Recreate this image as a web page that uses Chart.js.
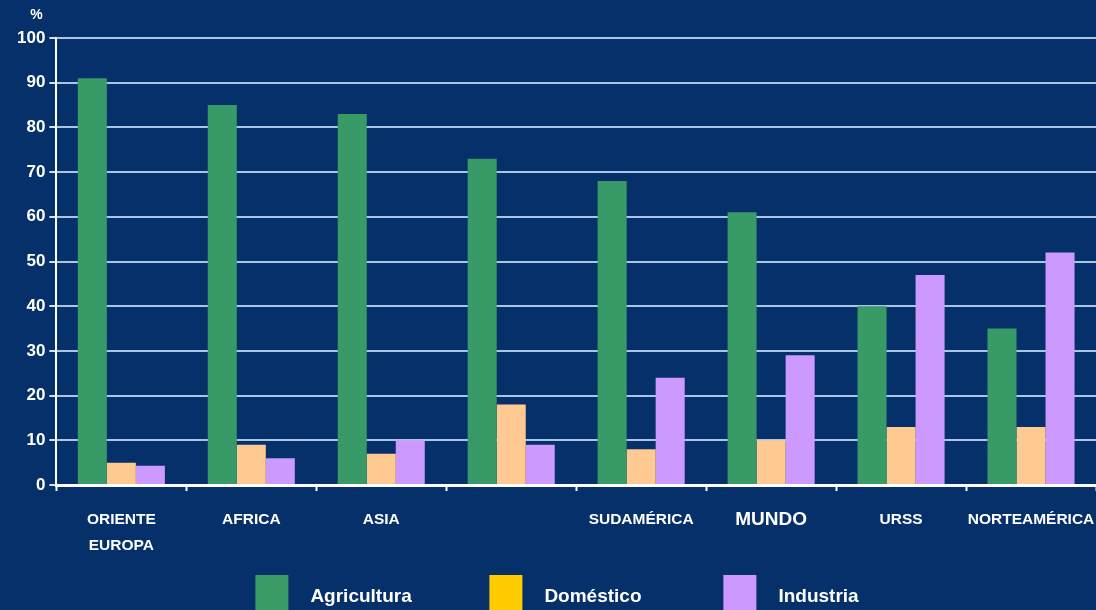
<!DOCTYPE html>
<html>
<head>
<meta charset="utf-8">
<script src="https://cdn.jsdelivr.net/npm/chart.js@4.4.1/dist/chart.umd.min.js"></script>
<style>
  html, body { margin: 0; padding: 0; background: #05306a; }
  #wrap { width: 1096px; height: 610px; }
</style>
</head>
<body>
<div id="wrap"><canvas id="chart" width="1096" height="610"></canvas></div>
<script>
// Data
const categories = [['ORIENTE', 'EUROPA'], 'AFRICA', 'ASIA', '', 'SUDAMÉRICA', 'MUNDO', 'URSS', 'NORTEAMÉRICA'];
const seriesNames = ['Agricultura', 'Doméstico', 'Industria'];
const agricultura = [91, 85, 83, 73, 68, 61, 40, 35];
const domestico = [5, 9, 7, 18, 8, 10, 13, 13];
const industria = [4.3, 6, 10, 9, 24, 29, 47, 52];
const barColors = ['#389a67', '#ffc992', '#cc99ff'];
const legendColors = ['#3a9a68', '#ffcc00', '#cc99ff'];

const FONT = '"Liberation Sans", Arial, sans-serif';

// "%" unit label above the y axis
const unitLabel = {
  id: 'unitLabel',
  afterDraw(chart) {
    const { ctx, chartArea } = chart;
    ctx.save();
    ctx.font = `bold 14px ${FONT}`;
    ctx.fillStyle = '#ffffff';
    ctx.textAlign = 'center';
    ctx.textBaseline = 'middle';
    ctx.fillText('%', chartArea.left - 20, chartArea.top - 23);
    ctx.restore();
  }
};

// Legend drawn by hand so the wide spacing of the original can be kept
const bottomLegend = {
  id: 'bottomLegend',
  afterDraw(chart) {
    const { ctx, width, height } = chart;
    const items = chart.data.datasets;
    const step = 234, box = 33, gap = 22;
    ctx.save();
    ctx.font = `bold 19px ${FONT}`;
    const lastW = box + gap + ctx.measureText(items[items.length - 1].label).width;
    const x0 = (width - (step * (items.length - 1) + lastW)) / 2 + 9;
    const y = height - 35;
    items.forEach((ds, i) => {
      const x = x0 + i * step;
      ctx.fillStyle = legendColors[i];
      ctx.fillRect(x, y, box, 36);
      ctx.fillStyle = '#ffffff';
      ctx.textAlign = 'left';
      ctx.textBaseline = 'middle';
      ctx.fillText(ds.label, x + box + gap, y + 22);
    });
    ctx.restore();
  }
};

const ctx = document.getElementById('chart').getContext('2d');
new Chart(ctx, {
  type: 'bar',
  data: {
    labels: categories,
    datasets: [agricultura, domestico, industria].map((values, i) => ({
      label: seriesNames[i],
      data: values,
      backgroundColor: barColors[i],
      borderWidth: 0,
      barPercentage: 1.0,
      categoryPercentage: 0.67
    }))
  },
  options: {
    responsive: false,
    animation: false,
    layout: { padding: { left: 13, right: 0, top: 38, bottom: 35 } },
    plugins: {
      legend: { display: false },
      tooltip: { enabled: false }
    },
    scales: {
      x: {
        // let the last label hang over the edge like in the original
        afterFit: (scale) => { scale.paddingRight = 0; },
        grid: {
          offset: true,
          drawOnChartArea: false,
          drawTicks: true,
          tickLength: 6,
          tickColor: '#ffffff',
          tickWidth: 2
        },
        border: { color: '#ffffff', width: 3 },
        ticks: {
          color: '#ffffff',
          padding: 16,
          maxRotation: 0,
          autoSkip: false,
          font: (c) => ({
            family: FONT,
            weight: 'bold',
            size: c.tick && c.tick.label === 'MUNDO' ? 19 : 15.5,
            lineHeight: '26px'
          })
        }
      },
      y: {
        min: 0,
        max: 100,
        grid: {
          color: 'rgba(190, 215, 240, 0.9)',
          lineWidth: 2,
          tickLength: 7,
          tickColor: 'rgba(220, 235, 250, 0.95)'
        },
        border: { color: '#ffffff', width: 2 },
        ticks: {
          stepSize: 10,
          color: '#ffffff',
          padding: 4,
          font: { family: FONT, weight: 'bold', size: 17 }
        }
      }
    }
  },
  plugins: [unitLabel, bottomLegend]
});
</script>
</body>
</html>
